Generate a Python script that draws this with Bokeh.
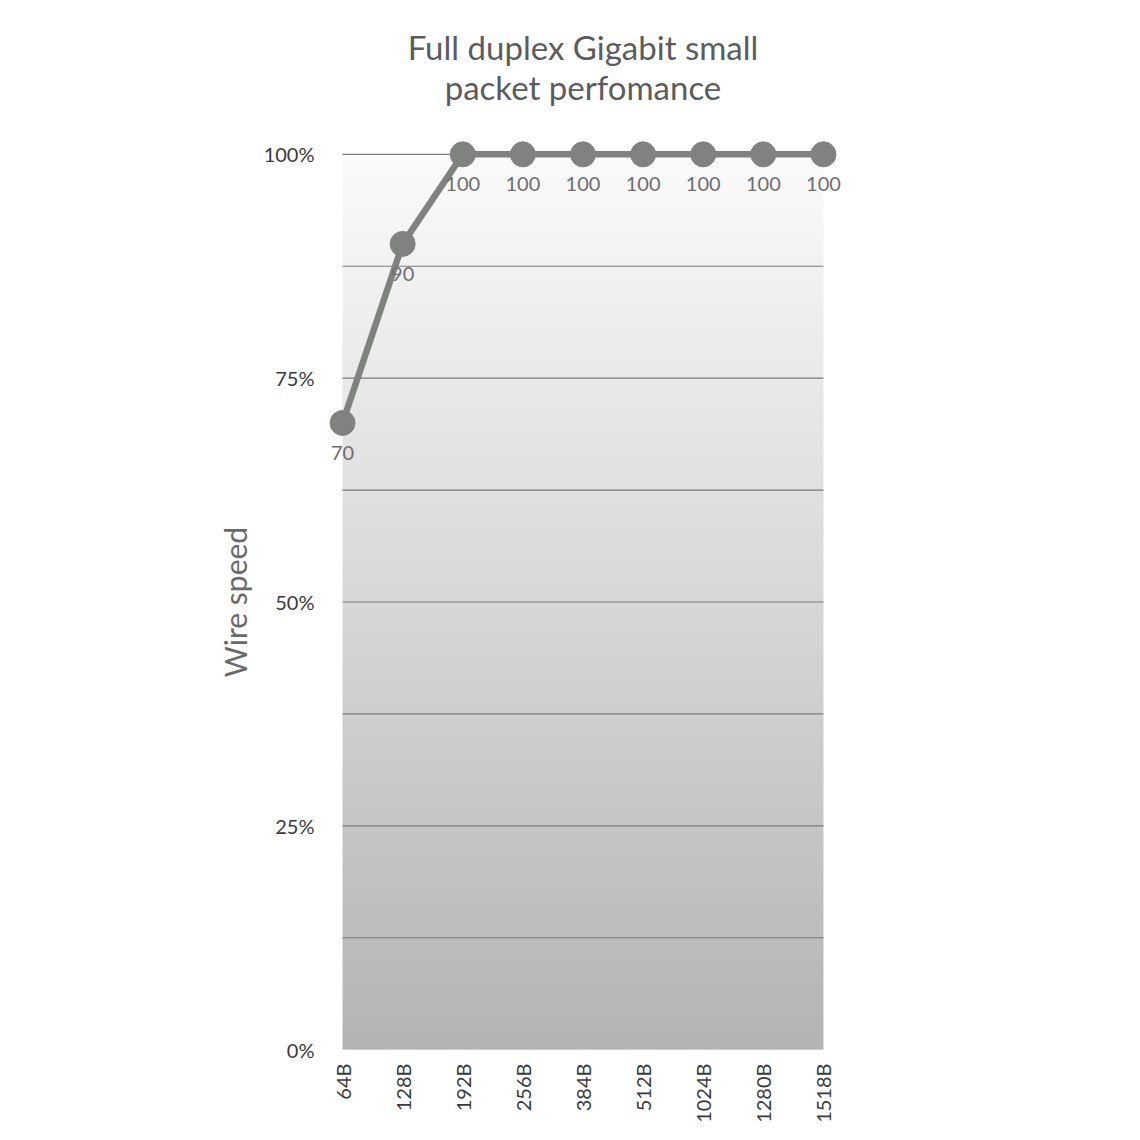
import math
import numpy as np
from bokeh.plotting import figure
from bokeh.models import Range1d, FixedTicker, Title, ColumnDataSource
from bokeh.core.properties import value
from bokeh.embed import file_html
from bokeh.resources import INLINE

categories = ["64B", "128B", "192B", "256B", "384B", "512B", "1024B", "1280B", "1518B"]
wire_speed = [70, 90, 100, 100, 100, 100, 100, 100, 100]
y_ticks = [0, 25, 50, 75, 100]
y_tick_labels = ["0%", "25%", "50%", "75%", "100%"]
grid_values = [12.5, 25, 37.5, 50, 62.5, 75, 87.5, 100]
title_lines = ["Full duplex Gigabit small", "packet perfomance"]

FONT = "Lato"
xs = list(range(len(categories)))

p = figure(
    frame_width=523, frame_height=949,
    x_range=Range1d(-0.35, len(categories) - 1 + 0.35),
    y_range=Range1d(-3, 103),
    output_backend="svg", toolbar_location=None,
    min_border_left=321, min_border_top=127, min_border_right=280, min_border_bottom=50,
    background_fill_color="white", border_fill_color="white",
)
p.outline_line_color = None
p.xgrid.grid_line_color = None
p.ygrid.grid_line_color = None

# gradient background of the plot area
n = 256
t = np.linspace(0, 1, n)  # 0 bottom -> 1 top
g = (180 + (251 - 180) * t).astype(np.uint32)
img = np.empty((n, 1), dtype=np.uint32)
view = img.view(dtype=np.uint8).reshape((n, 1, 4))
view[:, 0, 0] = g
view[:, 0, 1] = g
view[:, 0, 2] = g
view[:, 0, 3] = 255
p.image_rgba(image=[img], x=0, y=0, dw=len(categories) - 1, dh=100, level="image")

# horizontal grid lines spanning the category extent
p.segment(x0=[0] * len(grid_values), x1=[len(categories) - 1] * len(grid_values),
          y0=grid_values, y1=grid_values, line_color="#7a7a7a", line_width=1.2, level="underlay")

src = ColumnDataSource(dict(x=xs, y=wire_speed, lab=[str(v) for v in wire_speed]))
p.line("x", "y", source=src, line_color="#808280", line_width=6.5)
p.scatter("x", "y", source=src, size=25, fill_color="#808280", line_color="#808280")
p.text("x", "y", text="lab", source=src, text_align="center", text_baseline="middle",
       y_offset=30, text_font=value(FONT), text_font_size="20px", text_color="#6e6e6e")

# axes
p.xaxis.ticker = FixedTicker(ticks=xs)
p.xaxis.major_label_overrides = {i: c for i, c in enumerate(categories)}
p.xaxis.major_label_orientation = math.pi / 2
p.xaxis.major_label_text_font = FONT
p.xaxis.major_label_text_font_size = "20px"
p.xaxis.major_label_text_color = "#3a3a3a"
p.xaxis.major_label_standoff = -19

p.yaxis.ticker = FixedTicker(ticks=y_ticks)
p.yaxis.major_label_overrides = {v: l for v, l in zip(y_ticks, y_tick_labels)}
p.yaxis.major_label_text_font = FONT
p.yaxis.major_label_text_font_size = "20px"
p.yaxis.major_label_text_color = "#3a3a3a"
p.yaxis.major_label_standoff = 1
p.yaxis.axis_label = "Wire speed"
p.yaxis.axis_label_text_font = FONT
p.yaxis.axis_label_text_font_style = "normal"
p.yaxis.axis_label_text_font_size = "30px"
p.yaxis.axis_label_text_color = "#6a6a6a"
p.yaxis.axis_label_standoff = 8

for ax in (p.xaxis, p.yaxis):
    ax.axis_line_color = None
    ax.major_tick_line_color = None
    ax.minor_tick_line_color = None

p.title = None
for line, st in ((title_lines[1], 42), (title_lines[0], -46)):
    p.add_layout(Title(text=line, align="center", text_font=FONT, text_font_style="normal",
                       text_font_size="33px", text_color="#5c5c5c", standoff=st), "above")

open("out.html", "w").write(file_html(p, INLINE))
